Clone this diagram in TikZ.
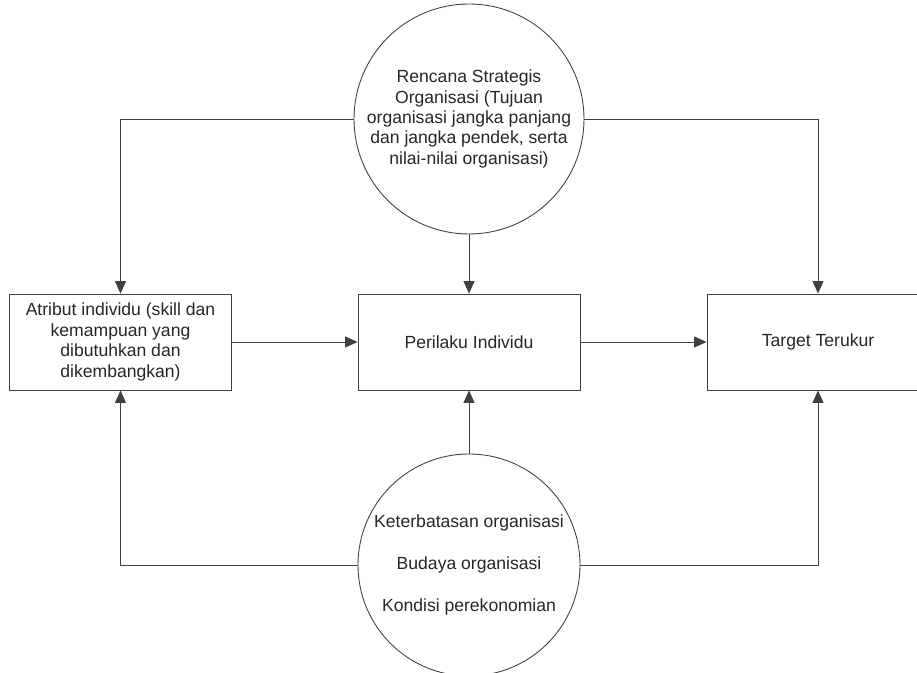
\documentclass[tikz,border=0pt]{standalone}
\usepackage{fontspec}
\setmainfont{Liberation Sans}
\usepackage{tikz}
\usetikzlibrary{positioning,arrows.meta}

\begin{document}
\begin{tikzpicture}[
  every node/.style={font=\fontsize{10}{11.6}\selectfont, text=black!85},
  faktor/.style={circle, draw=black!75, line width=0.5pt, minimum size=4.5cm, inner sep=0pt, align=center},
  block/.style={draw=black!75, line width=0.5pt, minimum width=4.44cm, minimum height=1.92cm, align=center},
  flow/.style={-{Triangle[length=0.25cm, width=0.22cm]}, line width=0.5pt, draw=black!75}
]
\useasboundingbox (0,0) rectangle (18.34,13.46);
\clip (0,0) rectangle (18.34,13.46);
% Strategic plan on top
\node[faktor, minimum size=4.6cm] (rencana) at (9.38, 11.08) {Rencana Strategis\\Organisasi (Tujuan\\organisasi jangka panjang\\dan jangka pendek, serta\\nilai-nilai organisasi)};
% Middle row
\node[block] (atribut) at (2.41, 6.62) {Atribut individu (skill dan\\kemampuan yang\\dibutuhkan dan\\dikembangkan)};
\node[block] (perilaku) at (9.38, 6.62) {Perilaku Individu};
\node[block] (target) at (16.36, 6.62) {Target Terukur};
% Constraints at the bottom
\node[faktor, minimum size=4.44cm] (kendala) at (9.38, 2.16) {Keterbatasan organisasi\\[12.5pt]Budaya organisasi\\[12.5pt]Kondisi perekonomian};
% Connectors
\draw[flow] (rencana) -| (atribut);
\draw[flow] (rencana) -- (perilaku);
\draw[flow] (rencana) -| (target);
\draw[flow] (atribut) -- (perilaku);
\draw[flow] (perilaku) -- (target);
\draw[flow] (kendala) -| (atribut);
\draw[flow] (kendala) -- (perilaku);
\draw[flow] (kendala) -| (target);
\end{tikzpicture}
\end{document}
